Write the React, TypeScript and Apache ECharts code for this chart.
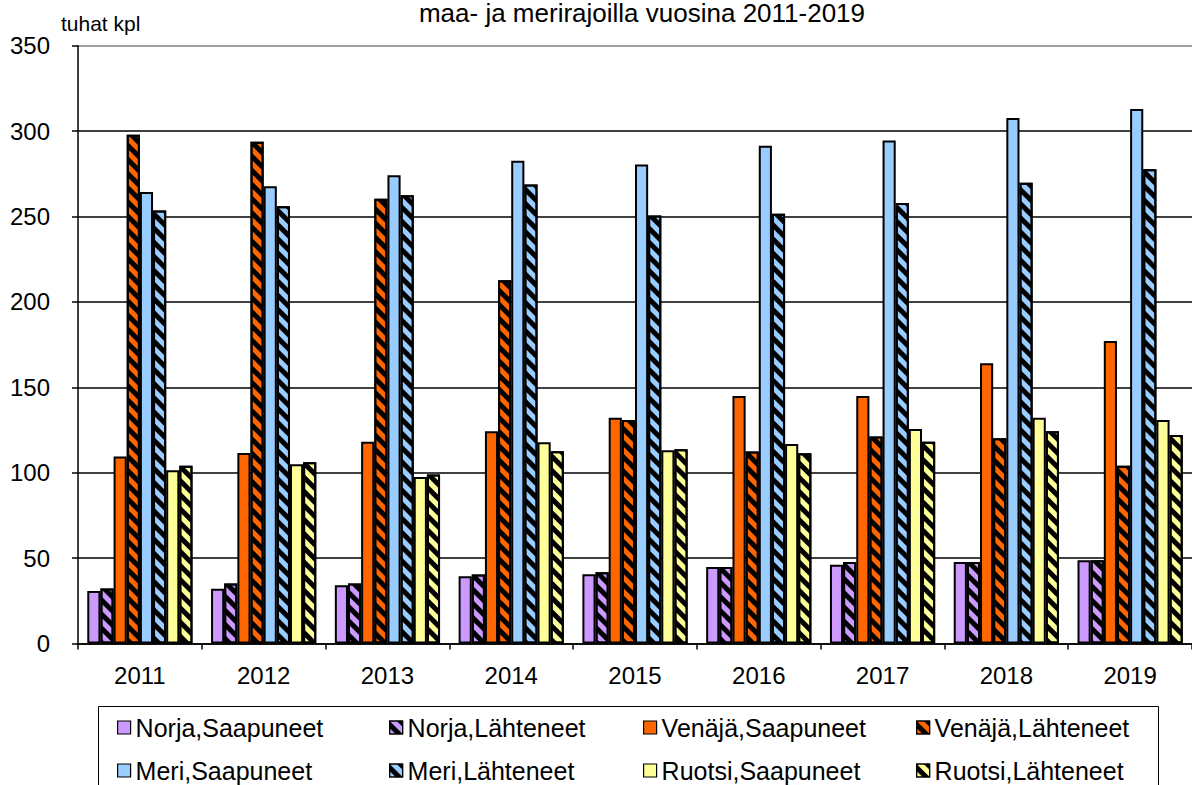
import React, { useEffect, useRef } from "react";
import * as echarts from "echarts";

const years = ["2011", "2012", "2013", "2014", "2015", "2016", "2017", "2018", "2019"];
const yTicks = { min: 0, max: 350, interval: 50 };

const norjaSaapuneet = [30.8, 32.0, 34.1, 39.4, 40.6, 44.8, 46.1, 47.7, 48.8];
const norjaLahteneet = [32.2, 35.2, 35.2, 40.4, 41.7, 44.8, 47.7, 47.7, 48.8];
const venajaSaapuneet = [109.5, 111.6, 118.1, 124.3, 132.1, 144.9, 144.9, 164.1, 177.1];
const venajaLahteneet = [297.9, 293.7, 260.4, 212.7, 130.8, 112.4, 121.2, 120.2, 104.0];
const meriSaapuneet = [264.4, 267.7, 274.2, 282.6, 280.5, 291.4, 294.5, 307.7, 313.0];
const meriLahteneet = [253.5, 256.0, 262.5, 268.8, 250.6, 251.6, 257.9, 269.8, 277.6];
const ruotsiSaapuneet = [101.5, 104.9, 97.5, 117.9, 113.2, 116.8, 125.6, 132.1, 130.8];
const ruotsiLahteneet = [104.0, 106.1, 99.0, 112.6, 113.7, 111.4, 118.1, 124.3, 122.0];

const seriesNames = [
  "Norja,Saapuneet",
  "Norja,Lähteneet",
  "Venäjä,Saapuneet",
  "Venäjä,Lähteneet",
  "Meri,Saapuneet",
  "Meri,Lähteneet",
  "Ruotsi,Saapuneet",
  "Ruotsi,Lähteneet",
];
const seriesData = [
  norjaSaapuneet,
  norjaLahteneet,
  venajaSaapuneet,
  venajaLahteneet,
  meriSaapuneet,
  meriLahteneet,
  ruotsiSaapuneet,
  ruotsiLahteneet,
];
const seriesColors = ["#CC99FF", "#CC99FF", "#FF6600", "#FF6600", "#99CCFF", "#99CCFF", "#FFFF99", "#FFFF99"];
const hatched = [false, true, false, true, false, true, false, true];

const titleText = "maa- ja merirajoilla vuosina 2011-2019";
const unitText = "tuhat kpl";

const FONT = "'Liberation Sans', Arial, sans-serif";

export default function App() {
  const ref = useRef<HTMLDivElement>(null);
  useEffect(() => {
    document.body.style.margin = "0";
    if (!ref.current) return;
    const chart = echarts.init(ref.current, undefined, { renderer: "svg" });
    const hatch = {
      symbol: "rect",
      symbolSize: 1,
      dashArrayX: [1, 0],
      dashArrayY: [4.5, 5],
      rotation: Math.PI / 4,
      color: "#000000",
    };
    const colX = [117, 389, 643, 916];
    const rowY = [715, 758];
    const option: any = {
      animation: false,
      backgroundColor: "#ffffff",
      title: {
        text: titleText,
        left: 642,
        textAlign: "center",
        top: 0,
        padding: 0,
        textStyle: { fontSize: 26, fontWeight: "normal", color: "#000", fontFamily: FONT },
      },
      graphic: [
        {
          type: "text",
          left: 61,
          top: 13,
          style: { text: unitText, font: `21px ${FONT}`, fill: "#000" },
        },
        {
          type: "rect",
          shape: { x: 98.5, y: 706.5, width: 1060, height: 120 },
          style: { fill: "none", stroke: "#000", lineWidth: 1 },
          z: 1,
        },
      ],
      legend: seriesNames.map((n, i) => ({
        data: [n],
        left: colX[i % 4],
        top: rowY[Math.floor(i / 4)],
        padding: 0,
        icon: "rect",
        itemWidth: 13,
        itemHeight: 13,
        selectedMode: false,
        itemStyle: { borderColor: "#000", borderWidth: 1.2 },
        textStyle: { fontSize: 25, color: "#000", fontFamily: FONT },
      })),
      grid: { left: 78, top: 45.7, width: 1125, height: 597.8, containLabel: false },
      xAxis: {
        type: "category",
        data: years,
        axisLine: { show: true, lineStyle: { color: "#000", width: 1.5 } },
        axisTick: { show: true, length: 6, lineStyle: { color: "#000", width: 1.5 } },
        axisLabel: { fontSize: 24, color: "#000", margin: 20, fontFamily: FONT },
        splitLine: { show: false },
      },
      yAxis: {
        type: "value",
        min: yTicks.min,
        max: yTicks.max,
        interval: yTicks.interval,
        axisLine: { show: true, lineStyle: { color: "#000", width: 1.5 } },
        axisTick: { show: true, length: 6, lineStyle: { color: "#000", width: 1.5 } },
        axisLabel: { fontSize: 24, color: "#000", margin: 28, fontFamily: FONT },
        splitLine: {
          show: true,
          lineStyle: {
            color: ["#000", "#000", "#000", "#000", "#000", "#000", "#000", "#808080"],
            width: 1.5,
          },
        },
      },
      series: seriesNames.map((n, i) => ({
        name: n,
        type: "bar",
        data: seriesData[i],
        barGap: "0%",
        barCategoryGap: "15%",
        itemStyle: {
          color: seriesColors[i],
          borderColor: "#000000",
          borderWidth: 2,
          borderType: "solid",
          ...(hatched[i] ? { decal: hatch } : {}),
        },
      })),
    };
    chart.setOption(option);
    return () => chart.dispose();
  }, []);
  return <div ref={ref} style={{ width: 1192, height: 785 }} />;
}
